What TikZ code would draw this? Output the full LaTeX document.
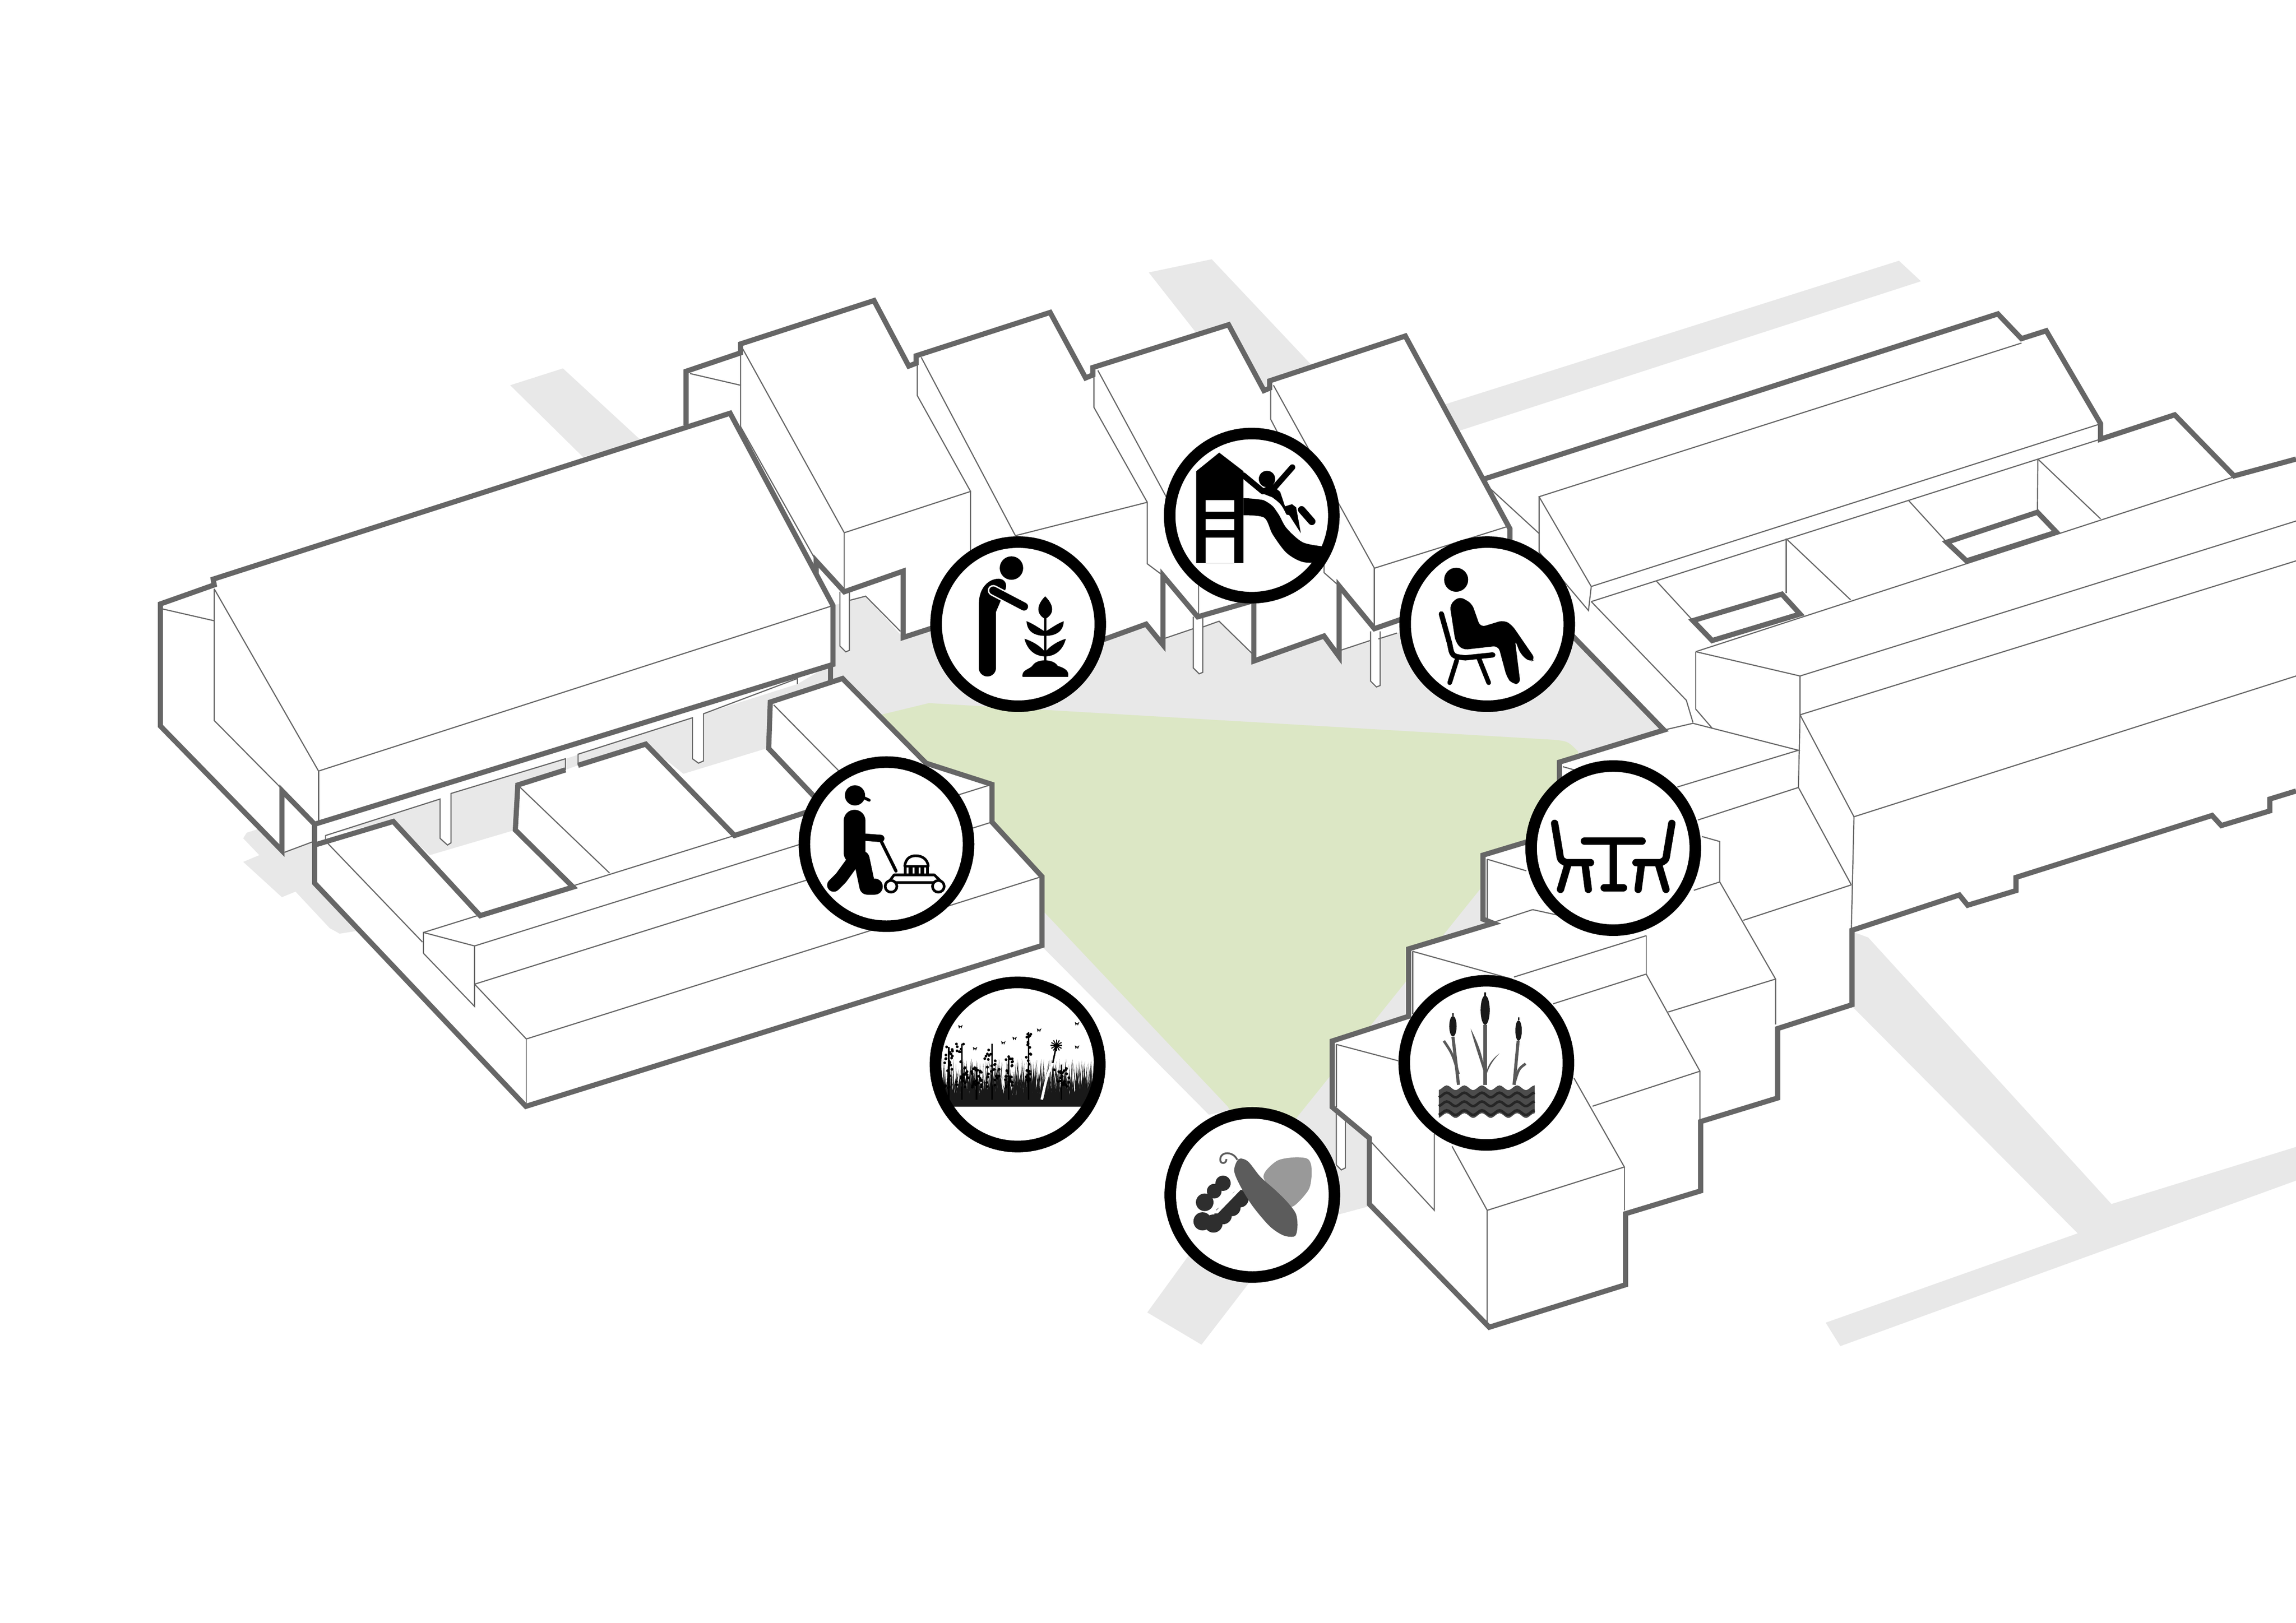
\documentclass[tikz,border=0pt]{standalone}
\usepackage{tikz}
\usetikzlibrary{calc}
\definecolor{ground}{HTML}{E8E8E8}
\definecolor{lawn}{HTML}{DCE7C5}
\definecolor{wall}{HTML}{666666}
\tikzset{
  heavy/.style={draw=wall,line width=1pt},
  thin line/.style={draw=wall,line width=0.22pt},
  post/.style={draw=wall,line width=0.22pt,fill=white},
  badge/.style={circle,draw=black,fill=white,line width=2.24pt,minimum size=1.12cm,inner sep=0pt},
  ring/.style={circle,draw=black,line width=2.24pt,minimum size=1.12cm,inner sep=0pt},
  icon/.style={black,line width=#1*0.2835pt,line cap=round,line join=round}
}
\begin{document}
\begin{tikzpicture}[x=0.01cm,y=-0.01cm]
\useasboundingbox (0,0) rectangle (1567,1108);
\fill[white] (0,0) rectangle (1567,1108);

% roads and courtyard
\fill[ground] (348.2,263) -- (384.2,251.5) -- (437.3,300.5) -- (397.9,312) -- cycle;
\fill[ground] (784,186) -- (827,177) -- (910,265) -- (850,270) -- cycle;
\fill[ground] (980,278) -- (1296,178) -- (1311,192) -- (990,296) -- cycle;
\fill[ground] (1264,636) -- (1275,640) -- (1441,822) -- (1567,783) -- (1567,806) -- (1256,919) -- (1246,903) -- (1418,842) -- (1264,687) -- cycle;
\fill[ground] (783,896) -- (820,918) -- (880,840) -- (914,829) -- (940,822) -- (1000,700) -- (1040,590) -- (1010,606) -- (885,763) -- (860,790) -- cycle;
\fill[ground] (712,620) -- (712,647) -- (825,761) -- (845,757) -- cycle;
\fill[ground] (168.4,568.5) -- (166,572.3) -- (177,583.8) -- (166,588.4) -- (192.4,612.5) -- (201.7,608.7) -- (225,633.6) -- (231.8,637.4) -- (243.8,635.5) -- (215,600) -- (215,570) -- (195,560) -- cycle;
\fill[ground] (560,400) -- (1040,380) -- (1136,499) -- (1064,530) -- (1010,606) -- (700,640) -- (560,500) -- cycle;
\fill[ground] (220,570) -- (568,455) -- (575,465) -- (526,512) -- (293,585) -- (268,561) -- cycle;
\fill[lawn] (601,488) -- (634,480) -- (1060,505) .. controls (1070,506) .. (1077,513) -- (1077,560) -- (1010.7,606.3) -- (885,763) -- (860,795) -- (838,755.5) -- (712,622) -- cycle;

% white masses
\fill[white] (109.5,412.3) -- (145.5,395.4) -- (498.3,282.1) -- (568.5,413.4) -- (568.5,453.6) -- (214.7,562.7) -- (214.7,574.2) -- (194.1,581.9) -- (109.5,495.7) -- cycle;
\fill[white] (214.7,562.7) -- (566.8,453.6) -- (544.2,467) -- (480.1,487.3) -- (480.1,519.5) -- (476.7,521) -- (472.6,518) -- (472.6,490) -- (385.9,518) -- (307.8,541.7) -- (307.8,575.4) -- (305.4,576.9) -- (300.3,572.3) -- (300.3,545.5) -- (222.2,570.4) -- (222.2,574.2) -- (214.7,577) -- cycle;
\fill[white] (214.7,577) -- (268.4,560.8) -- (293.4,583.8) -- (351.7,566.6) -- (353.4,536) -- (385.9,525.6) -- (394.5,522.5) -- (440.7,508) -- (466.4,528.3) -- (523,511) -- (525.7,479.3) -- (575,463.2) -- (632,521) -- (677,535.5) -- (677,561.2) -- (711.1,598.4) -- (711.1,645.5) -- (358.9,755.3) -- (214.7,602.9) -- cycle;
\fill[white] (468.2,290.2) -- (468.2,253.5) -- (505.4,240.9) -- (505.4,234.8) -- (596.5,205.2) -- (620.2,249.9) -- (625.2,242.9) -- (716.7,213.3) -- (740.9,258) -- (745.8,250.9) -- (838.5,221.7) -- (862.6,266.6) -- (866.5,260) -- (959.1,229.4) -- (1030.5,361) -- (1030.5,390) -- (990,420) -- (953.4,432.2) -- (938,437.2) -- (913.9,444.3) -- (903.6,434.2) -- (855.7,451.3) -- (855.7,447.3) -- (832,424.1) -- (793.7,436.2) -- (782.2,426.1) -- (754.3,436.2) -- (663,470) -- (663,420) -- (616.4,435.2) -- (590.8,407) -- (568.5,413.4) -- cycle;
\fill[white] (1012.9,327) -- (1363.5,214.3) -- (1379.6,231.2) -- (1396.5,225.8) -- (1433.6,289.2) -- (1433.6,299.8) -- (1484.2,283.2) -- (1524.7,324.9) -- (1567,313.4) -- (1567,540) -- (1549.1,545.5) -- (1549.1,553.6) -- (1516,563.6) -- (1509.7,556.7) -- (1375.9,599) -- (1375.9,608) -- (1342.9,618) -- (1337.2,611) -- (1264,635.1) -- (1264,685.9) -- (1213.2,702.2) -- (1213.2,749.6) -- (1160.7,765.7) -- (1160.7,813) -- (1109.4,828.6) -- (1109.4,877.1) -- (1016.4,906.1) -- (934.6,822.1) -- (934.6,777) -- (909.2,755.8) -- (909.2,710.7) -- (961.4,693.8) -- (961.4,647.8) -- (1019.2,630.3) -- (1012.1,627.5) -- (1012.1,583.8) -- (1064.3,568) -- (1064.3,520.3) -- (1135.6,498.4) -- (1030.5,390) -- (1030.5,361) -- cycle;

% posts
\foreach \px/\py/\pl in {573.2/404/37, 814.4/421/35, 935.4/431/34}
  \draw[post] (\px,\py) -- ++(0,\pl) -- ++(4,4) -- ++(2.5,-1) -- ++(0,-\pl-3);
\draw[post] (912,760) -- (912,795.3) -- (915.4,798.7) -- (918.2,797.3) -- (918.2,765.7);

% thin lines, left block
\draw[thin line] (146.2,402) -- (217.4,526.4) -- (568.5,413.4);
\draw[thin line] (217.4,526.4) -- (217.4,560.8);
\draw[thin line] (146.2,402) -- (146.2,491.9) -- (192.4,538.6);
\draw[thin line] (109.5,415.4) -- (146.2,423.8);
\draw[thin line] (194.1,581.9) -- (214.7,574.2);
\draw[thin line] (222.2,574.2) -- (222.2,570.4) -- (300.3,545.5) -- (300.3,572.3) -- (305.4,576.9) -- (307.8,575.4) -- (307.8,541.7) -- (385.9,518) -- (385.9,525.6);
\draw[thin line] (394.5,522.5) -- (394.5,514.9) -- (472.6,490) -- (472.6,518) -- (476.7,521) -- (480.1,519.5) -- (480.1,487.3) -- (544.2,463.2) -- (544.2,467);
\draw[thin line] (222.2,574.2) -- (288.3,643.1);
\draw[thin line] (289,650.8) -- (289,636.6) -- (323.9,645.8) -- (323.9,687.1) -- (289,650.8);
\draw[thin line] (289,636.6) -- (501.3,570.4);
\draw[thin line] (323.9,645.8) -- (677,535.5);
\draw[thin line] (323.9,671.9) -- (677,561.2);
\draw[thin line] (323.9,671.9) -- (359.2,709.3) -- (711.1,598.4);
\draw[thin line] (359.2,709.3) -- (359.2,755);
\draw[thin line] (528,481.2) -- (572.6,526.4);
\draw[thin line] (353.4,536) -- (416,596);

% thin lines, row of houses
\draw[thin line] (470.9,255) -- (505.4,263);
\draw[thin line] (505.4,237) -- (505.4,291.2) -- (557,383);
\draw[thin line] (506.5,237.4) -- (576.2,363.7) -- (662.4,335.5) -- (662.4,385);
\draw[thin line] (576.2,363.7) -- (576.2,404);
\draw[thin line] (579.3,410) -- (590.8,407) -- (614.5,431);
\draw[thin line] (626,248) -- (626,270) -- (662.4,335.5);
\draw[thin line] (628.7,243.9) -- (693,365.7) -- (783,342.9) -- (783,384.9) -- (793.7,392.9);
\draw[thin line] (746.6,256) -- (746.6,278.1) -- (783,342.9);
\draw[thin line] (749.3,252.9) -- (818,380) -- (903.6,356);
\draw[thin line] (818,380) -- (818,421);
\draw[thin line] (793.7,436.2) -- (814.4,429.2);
\draw[thin line] (820.5,428.2) -- (832,424.1) -- (855.7,447.3);
\draw[thin line] (867.2,265) -- (867.2,286.2) -- (903.6,356) -- (903.6,390.9) -- (913.9,400);
\draw[thin line] (869.1,263) -- (938,387.9) -- (1028,359.7);
\draw[thin line] (938,387.9) -- (938,429.2);
\draw[thin line] (913.9,444.3) -- (935.4,437.2);
\draw[thin line] (940.7,436.2) -- (953.4,432.2);

% thin lines, long block
\draw[thin line] (1014.8,331.5) -- (1050.4,364.2);
\draw[thin line] (1379.6,234.2) -- (1050.4,339.1) -- (1086,400.4) -- (1432.1,289.8);
\draw[thin line] (1050.4,339.1) -- (1050.4,376.9) -- (1084.1,416.8) -- (1086,400.4);
\draw[thin line] (1086,410.7) -- (1433.6,299.8);
\draw[thin line] (1086,410.7) -- (1150.9,478.1) -- (1155.4,493.2);
\draw[thin line] (1130.3,396.5) -- (1155.4,423.7);
\draw[thin line] (1219.1,367.8) -- (1219.1,405);
\draw[thin line] (1219.1,367.8) -- (1263,409.5);
\draw[thin line] (1302.4,341.5) -- (1328.6,370.2);
\draw[thin line] (1390.8,313.4) -- (1390.5,349.7);
\draw[thin line] (1390.8,313.4) -- (1433.6,354.2);
\draw[thin line] (1157.3,444.9) -- (1524.7,325.5);
\draw[thin line] (1157.3,444.9) -- (1228.5,461.5) -- (1567,355.7);
\draw[thin line] (1157.3,444.9) -- (1157.3,484.1) -- (1168.5,497.1);
\draw[thin line] (1228.5,461.5) -- (1228.5,488) -- (1567,382.9);
\draw[thin line] (1228.5,488) -- (1265.3,557.6) -- (1567,461.5);
\draw[thin line] (1265.3,557.6) -- (1263.5,635.2);
\draw[thin line] (1228.5,488) -- (1227.4,537.6) -- (1263.5,604.1);
\draw[thin line] (1135.6,498.4) -- (1155.4,493.8) -- (1227.4,512.2) -- (1144.7,537.3);
\draw[thin line] (1227.4,537.6) -- (1158.8,559.8);
\draw[thin line] (1263.5,604.1) -- (1189.8,628.3);

% thin lines, stepped block
\draw[thin line] (1066.6,523.4) -- (1090,530);
\draw[thin line] (1173.7,602.1) -- (1211.8,668.4) -- (1211.8,699.4);
\draw[thin line] (1138.5,690.9) -- (1211.8,668.4);
\draw[thin line] (1173.7,602.1) -- (1173.7,574.5) -- (1161.6,571.1);
\draw[thin line] (1173.7,602.1) -- (1156,607.8);
\draw[thin line] (1015,586.6) -- (1041.7,594.5);
\draw[thin line] (1015,586.6) -- (1015,627.5);
\draw[thin line] (1123.5,638.8) -- (1123.5,665);
\draw[thin line] (1123.5,638.8) -- (1033.3,667);
\draw[thin line] (964.2,649.5) -- (1031.9,668.4);
\draw[thin line] (964.2,649.5) -- (964.2,692.4);
\draw[thin line] (1046,621) -- (1019.2,629.7);
\draw[thin line] (1046,621) -- (1062.9,624.7);
\draw[thin line] (1123.5,665) -- (1060,685.3);
\draw[thin line] (1123.5,665) -- (1160.2,731.3) -- (1160.2,764.3);
\draw[thin line] (1160.2,731.3) -- (1086.9,755.2);
\draw[thin line] (1074.2,736) -- (1108.6,796.7) -- (1015,826.3);
\draw[thin line] (1108.6,796.7) -- (1108.6,826.3);
\draw[thin line] (991,782.6) -- (1015,826.3) -- (1015,902.4);
\draw[thin line] (912,713) -- (954.3,724.2);
\draw[thin line] (912,713) -- (912,755.8);
\draw[thin line] (936,779.8) -- (978.9,826.3) -- (978.9,774.1);

% heavy outlines
\draw[heavy] (109.5,412.3) -- (146.2,399.3) -- (145.5,395.4) -- (498.3,282.1) -- (568.5,413.4) -- (568.5,453.6) -- (214.7,562.7) -- (192.4,539.8) -- (192.4,580.7) -- (109.5,495.7) -- cycle;
\draw[heavy] (214.7,562.7) -- (214.7,602.9) -- (358.9,755.3) -- (711.1,645.5) -- (711.1,598.4) -- (677,561.2) -- (677,535.5) -- (632,521) -- (575,463.2) -- (525.7,479.3) -- (524.6,511) -- (555.5,543.6);
\draw[heavy] (566.8,453.6) -- (566.8,467);
\draw[heavy] (214.7,576.9) -- (268.4,560.8) -- (327.7,625.1) -- (391.1,605.6) -- (351.7,566.6) -- (353.4,535.9) -- (385.9,525.6);
\draw[heavy] (394.5,522.5) -- (440.7,508) -- (501.3,570.4) -- (555,553);
\draw[heavy] (468.2,290.2) -- (468.2,253.5) -- (505.4,240.9) -- (505.4,234.8) -- (596.5,205.2) -- (620.2,249.9) -- (625.2,248) -- (625.2,242.9) -- (716.7,213.3) -- (740.9,258) -- (745.8,256) -- (745.8,250.9) -- (838.5,221.7) -- (862.6,266.6) -- (866.5,265) -- (866.5,260) -- (959.1,229.4) -- (1030.5,361) -- (1030.5,390) -- (1135.6,498.4) -- (1064.3,520.3) -- (1064.3,568) -- (1012.1,583.8) -- (1012.1,627.5) -- (1019.2,630.3) -- (961.4,647.8) -- (961.4,693.8) -- (909.2,710.7) -- (909.2,755.8) -- (934.6,777) -- (934.6,822.1) -- (1016.4,906.1) -- (1109.4,877.1) -- (1109.4,828.6) -- (1160.7,813) -- (1160.7,765.7) -- (1213.2,749.6) -- (1213.2,702.2) -- (1264,685.9) -- (1264,635.1) -- (1337.2,611) -- (1342.9,618) -- (1375.9,608) -- (1375.9,599) -- (1509.7,556.7) -- (1516,563.6) -- (1549.1,553.6) -- (1549.1,545.5) -- (1567,540);
\draw[heavy] (1012.9,327) -- (1363.5,214.3) -- (1379.6,231.2) -- (1396.5,225.8) -- (1433.6,289.2) -- (1433.6,299.8) -- (1484.2,283.2) -- (1524.7,324.9) -- (1567,313.4);
\draw[heavy] (557,392) -- (557,383) -- (576.2,404) -- (616.4,389.9) -- (616.4,435.2) -- (663,420) -- (663,470) -- (754.3,436.2) -- (782.2,426.1) -- (793.7,440.2) -- (793.7,392.9) -- (817.4,421.1) -- (855.7,410) -- (855.7,451.3) -- (903.6,434.2) -- (913.9,448.3) -- (913.9,400) -- (938,429.2) -- (970,418);
\draw[heavy] (1155.4,423.7) -- (1216.1,405.6) -- (1228.5,419.2) -- (1168.5,437.3) -- cycle;
\draw[heavy] (1328.6,370.2) -- (1390.5,349.7) -- (1403.5,363.3) -- (1342.1,382.9) -- cycle;

% gardener
\node[badge] (gardener) at (694.9,426.1) {};
\begin{scope}[shift={(gardener.center)}]
  \fill (-4.6,-38.3) circle (8);
  \draw[icon=11.5] (-21,30) -- (-21,-12);
  \fill (-26.8,-14) .. controls (-26.8,-25) and (-20,-31) .. (-13.4,-31) .. controls (-9,-31) and (-7,-27) .. (-9,-23) -- (-15.3,-8) -- (-15.3,-4) -- (-26.8,-4) -- cycle;
  \draw[icon=7.5,white] (-17,-23) -- (4,-12);
  \draw[icon=5.5] (-17,-23) -- (4,-12);
  \draw[icon=1.6] (18.4,27) -- (18.4,-8);
  \fill (18.4,-19) .. controls (24.5,-13) and (25,-7) .. (18.4,-3.5) .. controls (12,-7) and (12.5,-13) .. cycle;
  \foreach \ly/\lt in {8/-2, 22/10} {
    \fill (18.4,\ly) .. controls (11,\ly) and (6,{\lt+7}) .. ({6.5-0.1*\ly},\lt) .. controls (11,{\lt+2}) and (16,{\lt+6}) .. (18.4,{\ly-3}) .. controls (20.8,{\lt+6}) and (25.8,{\lt+2}) .. ({30.3+0.1*\ly},\lt) .. controls (30.8,{\lt+7}) and (25.8,\ly) .. (18.4,\ly) -- cycle;
  }
  \fill (3,36) .. controls (2,31) and (8,31) .. (10,28) .. controls (13,23.5) and (24,23.5) .. (27,28.5) .. controls (32,30) and (35,32) .. (34,36) -- cycle;
\end{scope}

% slide
\node[badge] (slide) at (854.3,352) {};
\begin{scope}[shift={(slide.center)}]
  \fill (-37.9,32.4) -- (-37.9,-30.3) -- (-22.2,-43) -- (-5.7,-30.3) -- (-5.7,32.4) -- cycle;
  \fill[white] (-31.6,-10.6) rectangle (-11.9,-2.8);
  \fill[white] (-31.6,2.4) rectangle (-11.9,9.9);
  \fill[white] (-31.6,15) rectangle (-11.9,32.4);
  \fill plot[smooth] coordinates {(-5.7,-12) (10.4,-9.9) (18,-1.4) (23.7,8.5) (35,18.3) (50.2,21.2)} -- plot[smooth] coordinates {(50.2,32.1) (35,31.7) (23.7,25.4) (14.2,12.7) (8.5,1.4) (-5.7,-.3)} -- cycle;
  \fill (10.4,-25) circle (5.6);
  \draw[icon=4] (-5.7,-27.5) -- (7.6,-16.5) -- (16,-19.7) -- (27.7,-33);
  \draw[white,line width=0.8pt] (6,-13) .. controls (14,-10) and (19,-5) .. (24,4) .. controls (27,9) and (30,13) .. (34,16);
  \fill (5,-16) -- (16,-19) -- (19.4,-16.2) -- (22.7,-6.3) -- (27.5,-7.8) -- (30.3,-5.6) -- (33.5,12) -- (25.6,-.3) -- (23.7,-.7) .. controls (20,-8) .. (14,-12.5) -- cycle;
  \draw[icon=5] (34,-4) -- (41,4);
\end{scope}

% seated person
\node[badge] (sitting) at (1015,426.1) {};
\begin{scope}[shift={(sitting.center)}]
  \fill (-21.2,-30.3) circle (8.2);
  \fill[rounded corners=1pt] (-25.6,-13.4) -- (-19,-19) -- (-10.4,-14.1) -- (-4.7,2.1) -- (11.4,-2.8) -- (17,.7) -- (33,24) -- (29.2,26) -- (22.7,20.4) -- (18.9,10.6) -- (22.7,40.9) -- (17,40.9) -- (13.3,36) -- (7.6,14.8) -- (-17,17.6) -- (-21.7,12) -- cycle;
  \draw[icon=3.6] (-31.3,-7) -- (-25.6,13.4) .. controls (-24,22) .. (-15,23) -- (3.8,21);
  \draw[icon=3.2] (-20.8,24.7) -- (-25.6,40);
  \draw[icon=3.2] (-5.7,23.3) -- (1,40);
\end{scope}

% table and chairs
\node[badge] (table) at (1101,579) {};
\begin{scope}[shift={(table.center)}]
  \draw[icon=5] (-19.7,-4.8) -- (19.7,-4.8);
  \draw[icon=5] (0,-4.8) -- (0,27);
  \draw[icon=5] (-6.2,27.1) -- (7,27.1);
  \foreach \side in {-1,1} {
    \begin{scope}[xscale=\side]
      \draw[icon=5] (-40,-16.9) -- (-36.7,2.8) .. controls (-36,8) .. (-32.4,9.9) -- (-15.5,9.9);
      \draw[icon=5] (-31,11.3) -- (-36,28.2);
      \draw[icon=5] (-19.2,11.3) -- (-17,28.2);
    \end{scope}
  }
\end{scope}

% reeds and water
\node[badge] (reeds) at (1014.4,725.6) {};
\begin{scope}[shift={(reeds.center)}]
  \fill[black!70] plot[domain=-32.4:33,samples=50] (\x,{17+1.6*sin(\x*30)}) -- plot[domain=33:-32.4,samples=50] (\x,{36+1.6*sin(\x*30)}) -- cycle;
  \foreach \wy in {22,28,34}
    \draw[black!85,line width=0.5pt] plot[domain=-32.4:33,samples=50] (\x,{\wy+1.6*sin(\x*30)});
  \draw[black!65,line width=0.6pt] (-22.8,-17.8) -- (-19,15);
  \draw[black!65,line width=0.8pt] (-.8,-26) -- (-.8,15);
  \draw[black!65,line width=0.6pt] (21.7,-15) -- (18.9,15);
  \draw[black!65,line width=0.5pt] (-29,-15) .. controls (-23,-6) .. (-19,7.6);
  \fill[black!65] (-10.7,-23.4) .. controls (-5,-12) and (-2,-4) .. (-.4,11) .. controls (-4,-2) and (-8,-12) .. cycle;
  \fill[black!65] (9,-6.5) .. controls (3,-2) and (0,3) .. (-1,11) .. controls (2,2) and (4,-1) .. cycle;
  \draw[black!65,line width=0.5pt] (26.8,.6) .. controls (22,4) .. (18.9,14.7);
  \fill[black!90] (-.8,-36) ellipse (3.1 and 10);
  \draw[black!90,line width=0.3pt] (-.8,-46) -- (-.8,-48);
  \fill[black!90] (-22.8,-25) ellipse (2.5 and 7);
  \draw[black!90,line width=0.3pt] (-22.8,-32) -- (-22.8,-34);
  \fill[black!90] (22,-22) ellipse (2.2 and 7);
  \draw[black!90,line width=0.3pt] (22,-29) -- (22,-31);
\end{scope}

% mower
\node[badge] (mower) at (605,576.3) {};
\begin{scope}[shift={(mower.center)}]
  \fill (-21.5,-33.3) circle (6.9);
  \draw[icon=2] (-16,-32) -- (-11.8,-30);
  \draw[icon=15] (-21.8,-16) -- (-21.8,6);
  \draw[icon=11] (-17,10) -- (-13,29) -- (-8,29);
  \draw[icon=9] (-23,12) -- (-31,23) -- (-36,28);
  \draw[icon=5] (-18,-5) -- (-3.9,-3.9);
  \draw[icon=2.2] (-3.9,-2.6) -- (6.5,18.3);
  \draw[icon=1.8,fill=white] (12.5,15) .. controls (13,10) and (16,7.9) .. (20,7.9) .. controls (24,7.9) and (28,10) .. (28.5,15);
  \fill (11.8,14.5) rectangle (28.8,21);
  \foreach \sx in {14.5,18.5,22.5,26.5} \fill[white] (\sx-.6,16) rectangle (\sx+.6,20);
  \draw[icon=1.8,fill=white] (1.3,26.2) -- (5.2,21) -- (32.7,21) -- (38,26.2) -- cycle;
  \draw[icon=1.8,fill=white] (3.1,28.8) circle (4);
  \draw[icon=1.8,fill=white] (35.4,28.8) circle (4);
\end{scope}

% meadow
\node[badge] (meadow) at (694.5,726.7) {};
\begin{scope}[shift={(meadow.center)}]
  \clip (0,0) circle (54);
  \fill[black!90] (-55,21) rectangle (55,28.8);
  \pgfmathsetseed{41}
  \foreach \i in {1,...,520} {
    \pgfmathsetmacro\gx{-51+102*rnd}
    \pgfmathsetmacro\gy{20-24*rnd}
    \pgfmathsetmacro\gl{-3+6*rnd}
    \fill[black!90] (\gx-.6,24) -- (\gx+.6,24) -- (\gx+\gl,\gy) -- cycle;
  }
  \foreach \sx/\st/\sr in {-38/-14/4, -17.5/-14/5, -47/-12/3, -6/-6/2.6, 7.5/-22/1.6, 30/0/5, -28/2/3.5}
    \draw[black,line width=0.3pt] (\sx,24) -- (\sx,\st);
  \foreach \sx/\st/\sr in {-38/-14/4, -17.5/-14/5, -47/-12/3, -6/-6/2.6, 7.5/-22/1.6, 30/0/5, -28/2/3.5}
    \foreach \j in {1,...,26} {
      \pgfmathsetmacro\fx{\sx+\sr*(2*rnd-1)}
      \pgfmathsetmacro\fy{\st+(16-\st)*rnd}
      \fill[black] (\fx,\fy) circle (0.95);
    }
  \draw[white,line width=0.5pt] (16.5,24) .. controls (20,8) .. (24,-1);
  \draw[black,line width=0.3pt] (24,-1) -- (26.5,-13);
  \foreach \ang in {0,30,...,330}
    \draw[black,line width=0.2pt] (26.5,-13) -- ++(\ang:4);
  \foreach \bx/\by in {-39/-26, -2/-18, 14.7/-23.6, 40.6/-28, 40.6/-12, -29/-11, -9.7/-15}
    \fill[black] (\bx-1.5,\by-1) -- (\bx,\by) -- (\bx-1,\by+1.5) -- cycle (\bx+1.5,\by-1) -- (\bx,\by) -- (\bx+.5,\by+1.5) -- cycle;
\end{scope}
\node[ring] (meadowring) at (694.5,726.7) {};

% produce
\node[badge] (produce) at (854.7,815.8) {};
\begin{scope}[shift={(produce.center)}]
  \fill[black!40] plot[smooth cycle] coordinates {(7.6,-12.4) (16.3,-23) (27.6,-25.6) (37,-25) (40,-21) (40.4,-12.4) (38,-2.9) (27,8.1) (18,2)};
  \foreach \bx/\by/\br in {-20/-8/5.2, -26/-2.6/5, -32.5/5/6, -34/18/6.2, -26.5/19.5/6.2, -20/14/6, -14/8.5/6, -8.5/2.5/6}
    \fill[black!82] (\bx,\by) circle (\br);
  \draw[white,line width=0.6pt] (-30,11.5) -- (-24,11.5) -- (-8,-5);
  \draw[white,line width=0.4pt] (-20,-1) -- (-9,-5);
  \fill[black!64] plot[smooth cycle] coordinates {(-9.3,-24.5) (-3,-22.9) (5.5,-12.4) (16,-3) (24,5) (29.7,12.8) (30.8,21.3) (29,28.1) (21.2,27.6) (11.8,21.3) (.2,7.6) (-8.2,-6.1) (-12.4,-16.6)};
  \draw[black!64,line width=0.35pt] (-10.3,-24) .. controls (-13,-30) and (-22,-30) .. (-21.9,-24) .. controls (-21.9,-21) and (-17.7,-21) .. (-17.7,-24.5);
\end{scope}
\end{tikzpicture}
\end{document}
